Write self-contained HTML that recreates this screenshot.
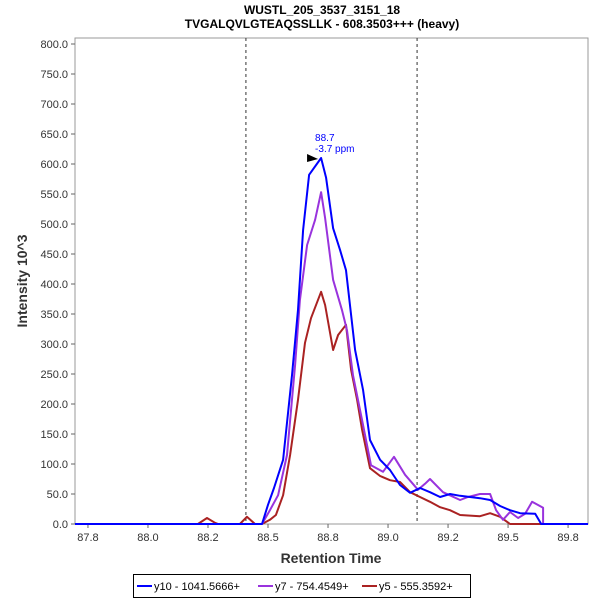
<!DOCTYPE html>
<html><head><meta charset="utf-8"><style>
body{margin:0;background:#fff;font-family:"Liberation Sans",sans-serif}
svg{display:block}
</style></head><body>
<svg id="chart" width="600" height="600" xmlns="http://www.w3.org/2000/svg">
<rect width="600" height="600" fill="#fff"/>
<text x="322" y="14" text-anchor="middle" font-size="12" font-weight="bold">WUSTL_205_3537_3151_18</text>
<text x="322" y="28" text-anchor="middle" font-size="12" font-weight="bold">TVGALQVLGTEAQSSLLK - 608.3503+++ (heavy)</text>
<rect x="75" y="38" width="513" height="486" fill="none" stroke="#999"/>
<g id="yaxis"></g>
<g id="xaxis"></g>
<g id="series"></g>
<text transform="translate(27,281) rotate(-90)" text-anchor="middle" font-size="14" font-weight="bold" fill="#333">Intensity 10^3</text>
<text x="331" y="563" text-anchor="middle" font-size="14" font-weight="bold" fill="#333">Retention Time</text>
<g>
<rect x="133.5" y="574.5" width="337" height="23" fill="#fff" stroke="#000"/>
<g><line x1="137" y1="586" x2="152" y2="586" stroke="#0000ff" stroke-width="2"/><text x="154" y="590" font-size="11">y10 - 1041.5666+</text></g>
<g><line x1="258" y1="586" x2="273" y2="586" stroke="#9933dd" stroke-width="2"/><text x="275" y="590" font-size="11">y7 - 754.4549+</text></g>
<g><line x1="362" y1="586" x2="377" y2="586" stroke="#aa2222" stroke-width="2"/><text x="379" y="590" font-size="11">y5 - 555.3592+</text></g>
</g>
</svg>
<script>
const yTicks=[0,50,100,150,200,250,300,350,400,450,500,550,600,650,700,750,800];
const xTicks=[87.75,88.0,88.25,88.5,88.75,89.0,89.25,89.5,89.75];
const xTickLabels=["87.8","88.0","88.2","88.5","88.8","89.0","89.2","89.5","89.8"];
const markers=[88.408,89.121];
const y10RT=[87.696,88.475,88.5,88.525,88.563,88.6,88.625,88.646,88.671,88.721,88.742,88.771,88.8,88.825,88.863,88.896,88.925,88.967,89.008,89.05,89.092,89.133,89.175,89.217,89.258,89.3,89.383,89.425,89.467,89.508,89.55,89.613,89.638,89.833];
const y10Val=[0,0,32,60,107,248,357,490,582,610,577,493,457,423,290,223,140,107,90,65,52,60,53,45,50,47,43,40,30,23,18,17,0,0];
const y7RT=[87.696,88.475,88.508,88.542,88.579,88.613,88.633,88.663,88.696,88.721,88.738,88.771,88.808,88.829,88.854,88.892,88.929,88.979,89.025,89.071,89.125,89.154,89.175,89.229,89.3,89.333,89.383,89.425,89.45,89.479,89.508,89.542,89.571,89.6,89.646,89.646,89.833];
const y7Val=[0,0,23,48,115,265,373,465,507,553,510,407,357,323,248,173,98,87,112,82,57,67,75,53,40,45,50,50,23,7,20,10,17,37,27,0,0];
const y5RT=[87.696,88.208,88.246,88.279,88.292,88.383,88.412,88.446,88.475,88.508,88.533,88.563,88.592,88.625,88.654,88.679,88.721,88.738,88.771,88.792,88.825,88.846,88.871,88.892,88.925,88.967,89.008,89.05,89.092,89.133,89.175,89.217,89.258,89.3,89.383,89.425,89.467,89.508,89.833];
const y5Val=[0,0,10,2,0,0,12,0,0,7,15,48,115,207,302,343,387,365,290,315,332,257,207,157,93,80,73,70,53,45,37,28,23,15,13,18,12,0,0];
const peakRT=88.721, peakVal=610;

const X0=75,X1=588,Y0=524,Y1=44;
const xMin=87.696,xMax=89.833;
function sx(v){return X0+(v-xMin)/(xMax-xMin)*(X1-X0);}
function sy(v){return Y0-(v/800)*(Y0-Y1);}
const NS="http://www.w3.org/2000/svg";
function mk(tag,attrs,parent){const e=document.createElementNS(NS,tag);for(const k in attrs)e.setAttribute(k,attrs[k]);parent.appendChild(e);return e;}
const ya=document.getElementById('yaxis'),xa=document.getElementById('xaxis'),sg=document.getElementById('series');
yTicks.forEach(t=>{
 const y=sy(t);
 const l=mk('line',{x1:71,x2:75,y1:y,y2:y,stroke:'#666'},ya);
 
 
 const tx=mk('text',{x:68,y:y+4,'text-anchor':'end','font-size':11,fill:'#333'},ya);
 tx.textContent=t.toFixed(1);
 
 
});
xTicks.forEach((t,i)=>{
 const x=sx(t);
 const l=mk('line',{x1:x,x2:x,y1:524,y2:528,stroke:'#666'},xa);
 
 
 const tx=mk('text',{x:x,y:541,'text-anchor':'middle','font-size':11,fill:'#333'},xa);
 tx.textContent=xTickLabels[i];
 
 
});
markers.forEach(m=>{
 const l=mk('line',{x1:sx(m),x2:sx(m),y1:38,y2:524,stroke:'#333','stroke-dasharray':'3,3'},sg);
 
 
});
function series(rt,val,color,name){
 const d=rt.map((r,i)=>(i?'L':'M')+sx(r).toFixed(1)+','+sy(val[i]).toFixed(1)).join('');
 const p=mk('path',{d:d,fill:'none',stroke:color,'stroke-width':2,'stroke-linejoin':'round'},sg);
 
 
}
series(y5RT,y5Val,'#aa2222','series-y5');
series(y7RT,y7Val,'#9933dd','series-y7');
series(y10RT,y10Val,'#0000ff','series-y10');
const px=sx(peakRT),py=sy(peakVal);
const tri=mk('polygon',{points:`${px-14},${py-4} ${px-3},${py+1} ${px-14},${py+4}`,fill:'#000'},sg);


const l1=mk('text',{x:px-6,y:py-17,'font-size':10,fill:'#0000ff'},sg);
l1.textContent='88.7';


const l2=mk('text',{x:px-6,y:py-6,'font-size':10,fill:'#0000ff'},sg);
l2.textContent='-3.7 ppm';


</script>
</body></html>
